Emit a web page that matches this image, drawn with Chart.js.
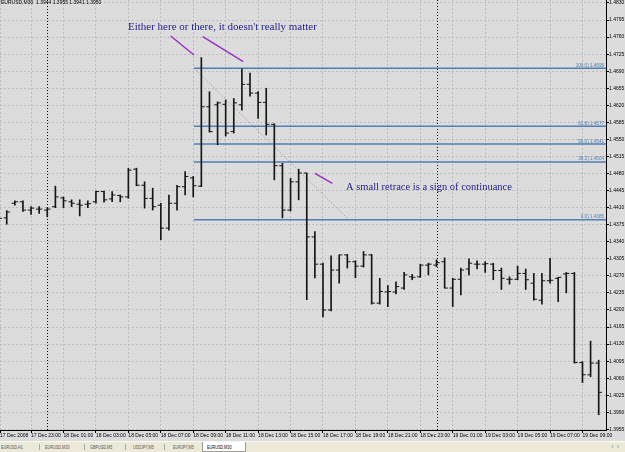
<!DOCTYPE html>
<html>
<head>
	<meta charset="utf-8">
	<title>EURUSD,M30</title>
	<style>
		body { margin: 0; background: #dcdcdc; overflow: hidden; }
		#chartBox { position: relative; width: 625px; height: 441px; }
		#tabs { position: relative; width: 625px; height: 11px; background: #ece9d8; border-top: 1px solid #f8f8f4; box-sizing: border-box; font-family: "Liberation Sans", Arial, sans-serif; font-size: 5.6px; }
		#tabs .tab { position: absolute; top: 1.5px; color: #555; white-space: nowrap; transform: scaleX(0.68); transform-origin: left top; }
		#tabs .sep { position: absolute; top: 2px; width: 1px; height: 6px; background: #a8a8a0; }
		#tabs .active { position: absolute; top: 0; left: 202px; width: 44px; height: 10px; background: #fff; border: 1px solid #9c9c94; border-top: none; box-sizing: border-box; }
		#tabs .active .tab { left: 4px; top: 1.5px; color: #000; }
		#tabs .arrows { position: absolute; right: 3px; top: 1px; color: #8a8a8a; font-size: 7px; letter-spacing: 3px; }
	</style>
</head>
<body>
	<div id="chartBox"><canvas id="myChart"></canvas></div>
	<div id="tabs">
		<span class="tab" style="left:1px">EURUSD,H1</span>
		<span class="sep" style="left:39px"></span>
		<span class="tab" style="left:45px">EURUSD,M30</span>
		<span class="sep" style="left:84px"></span>
		<span class="tab" style="left:90px">GBPUSD,M5</span>
		<span class="sep" style="left:125px"></span>
		<span class="tab" style="left:133px">USDJPY,M5</span>
		<span class="sep" style="left:164px"></span>
		<span class="tab" style="left:173px">EURJPY,M5</span>
		<div class="active"><span class="tab">EURUSD,M30</span></div>
		<span class="arrows">‹›</span>
	</div>

	<script src="https://cdn.jsdelivr.net/npm/chart.js"></script>
	<script>
		// EURUSD M30 bars, 17 Dec 21:00 .. 19 Dec 10:00 (one value per bar)
		const opens = [1.4392, 1.4389, 1.4419, 1.4422, 1.4405, 1.4407, 1.4405, 1.4412, 1.4430, 1.4422,
			1.4417, 1.4417, 1.4422, 1.4443, 1.4428, 1.4435, 1.4432, 1.4489, 1.4456, 1.4429,
			1.4415, 1.4368, 1.4419, 1.4453, 1.4471, 1.4454, 1.4617, 1.4621, 1.4622, 1.4566,
			1.4621, 1.4663, 1.4645, 1.4626, 1.4581, 1.4496, 1.4405, 1.4463, 1.4481, 1.4350,
			1.4294, 1.4200, 1.4282, 1.4313, 1.4299, 1.4290, 1.4313, 1.4214, 1.4237, 1.4237,
			1.4245, 1.4268, 1.4268, 1.4292, 1.4292, 1.4299, 1.4245, 1.4263, 1.4284, 1.4294,
			1.4294, 1.4294, 1.4281, 1.4263, 1.4263, 1.4275, 1.4255, 1.4220, 1.4260, 1.4265,
			1.4274, 1.4275, 1.4092, 1.4067, 1.4091];
		const highs = [1.4398, 1.4404, 1.4424, 1.4424, 1.4412, 1.4412, 1.4410, 1.4454, 1.4432, 1.4426,
			1.4426, 1.4424, 1.4444, 1.4444, 1.4443, 1.4436, 1.4491, 1.4491, 1.4463, 1.4450,
			1.4419, 1.4436, 1.4456, 1.4484, 1.4474, 1.4718, 1.4648, 1.4627, 1.4631, 1.4634,
			1.4695, 1.4686, 1.4648, 1.4655, 1.4582, 1.4501, 1.4470, 1.4489, 1.4481, 1.4361,
			1.4296, 1.4311, 1.4313, 1.4314, 1.4301, 1.4320, 1.4314, 1.4265, 1.4250, 1.4258,
			1.4277, 1.4273, 1.4294, 1.4296, 1.4303, 1.4307, 1.4265, 1.4286, 1.4305, 1.4301,
			1.4299, 1.4296, 1.4286, 1.4268, 1.4290, 1.4284, 1.4275, 1.4275, 1.4306, 1.4267,
			1.4277, 1.4277, 1.4094, 1.4136, 1.4097];
		const lows = [1.4384, 1.4376, 1.4415, 1.4402, 1.4396, 1.4398, 1.4391, 1.4410, 1.4410, 1.4412,
			1.4393, 1.4410, 1.4419, 1.4421, 1.4422, 1.4422, 1.4429, 1.4455, 1.4409, 1.4405,
			1.4344, 1.4364, 1.4405, 1.4436, 1.4432, 1.4453, 1.4565, 1.4539, 1.4557, 1.4563,
			1.4610, 1.4639, 1.4593, 1.4559, 1.4467, 1.4389, 1.4403, 1.4426, 1.4221, 1.4266,
			1.4186, 1.4198, 1.4255, 1.4286, 1.4266, 1.4288, 1.4212, 1.4212, 1.4207, 1.4233,
			1.4242, 1.4262, 1.4267, 1.4272, 1.4289, 1.4245, 1.4207, 1.4231, 1.4272, 1.4284,
			1.4277, 1.4262, 1.4242, 1.4253, 1.4262, 1.4242, 1.4220, 1.4212, 1.4255, 1.4217,
			1.4235, 1.4091, 1.4051, 1.4063, 1.3985];
		const closes = [1.4388, 1.4401, 1.4422, 1.4405, 1.4409, 1.4407, 1.4407, 1.4432, 1.4424, 1.4419,
			1.4415, 1.4418, 1.4443, 1.4426, 1.4436, 1.4432, 1.4487, 1.4456, 1.4429, 1.4412,
			1.4368, 1.4419, 1.4453, 1.4474, 1.4455, 1.4617, 1.4566, 1.4625, 1.4563, 1.4625,
			1.4663, 1.4645, 1.4626, 1.4581, 1.4496, 1.4405, 1.4463, 1.4481, 1.4350, 1.4294,
			1.4200, 1.4282, 1.4313, 1.4299, 1.4290, 1.4313, 1.4214, 1.4238, 1.4238, 1.4248,
			1.4272, 1.4267, 1.4292, 1.4294, 1.4297, 1.4245, 1.4263, 1.4282, 1.4296, 1.4294,
			1.4295, 1.4281, 1.4265, 1.4263, 1.4275, 1.4262, 1.4222, 1.4260, 1.4261, 1.4267,
			1.4275, 1.4092, 1.4067, 1.4091, 1.4031];

		// axis labels: one time label every 4 bars (2 hours), prices every 35 points
		const timeLabels = ['17 Dec 2008', '17 Dec 23:00', '18 Dec 01:00', '18 Dec 03:00', '18 Dec 05:00',
			'18 Dec 07:00', '18 Dec 09:00', '18 Dec 11:00', '18 Dec 13:00', '18 Dec 15:00',
			'18 Dec 17:00', '18 Dec 19:00', '18 Dec 21:00', '18 Dec 23:00', '19 Dec 01:00',
			'19 Dec 03:00', '19 Dec 05:00', '19 Dec 07:00', '19 Dec 09:00'];
		const priceTicks = [1.3955, 1.3990, 1.4025, 1.4060, 1.4095, 1.4130, 1.4165, 1.4200, 1.4235, 1.4270,
			1.4305, 1.4340, 1.4375, 1.4410, 1.4445, 1.4480, 1.4515, 1.4550, 1.4585, 1.4620,
			1.4655, 1.4690, 1.4725, 1.4760, 1.4795, 1.4830];

		// fibo retracement drawn from the 18 Dec high to the 18 Dec 15:00 low
		const fibHigh = 1.4696;
		const fibLow = 1.4385;
		const fibLevels = [100, 61.8, 50, 38.2, 0];
		const headerText = 'EURUSD,M30  1.3944 1.3955 1.3941 1.3950';
		const daySeparators = [6, 54]; // bar index of 18 Dec 00:00 and 19 Dec 00:00

		const fibStart = 24.1, fibEnd = 43.2; // bar positions of the fibo anchors
		const purple = '#9b30c8';
		const notes = [
			{ text: 'Either here or there, it doesn\'t really matter', x: 15.95, y: 1.4781, size: 11 },
			{ text: 'A small retrace is a sign of continuance', x: 42.84, y: 1.4452, size: 10.5 }
		];
		const pointers = [
			[{ x: 21.22, y: 1.47622 }, { x: 24.09, y: 1.47232 }],
			[{ x: 25.17, y: 1.47608 }, { x: 30.17, y: 1.47095 }],
			[{ x: 39.01, y: 1.44805 }, { x: 41.15, y: 1.44600 }]
		];

		const fibPrice = lvl => fibLow + (fibHigh - fibLow) * lvl / 100;

		// extras MT4 draws on the chart: separators, header, fibo captions, notes
		const mt4Extras = {
			id: 'mt4Extras',
			beforeDatasetsDraw(chart) {
				const { ctx, chartArea, scales } = chart;
				ctx.save();
				ctx.strokeStyle = '#000';
				ctx.lineWidth = 1;
				ctx.setLineDash([1, 2]);
				daySeparators.forEach(i => {
					const x = Math.round(scales.x.getPixelForValue(i)) + 0.5;
					ctx.beginPath();
					ctx.moveTo(x, chartArea.top);
					ctx.lineTo(x, chartArea.bottom);
					ctx.stroke();
				});
				ctx.restore();
			},
			afterDatasetsDraw(chart) {
				const { ctx, chartArea, scales } = chart;
				ctx.save();
				ctx.fillStyle = '#000';
				ctx.font = '5px "Liberation Sans", Arial, sans-serif';
				ctx.textBaseline = 'middle';
				ctx.fillText(headerText, chartArea.left + 1, chartArea.top + 3);

				ctx.fillStyle = '#4f7fb0';
				ctx.font = '4.6px "Liberation Sans", Arial, sans-serif';
				ctx.textAlign = 'right';
				ctx.textBaseline = 'bottom';
				fibLevels.forEach(lvl => {
					const p = fibPrice(lvl);
					ctx.fillText(lvl.toFixed(1) + ') ' + p.toFixed(4), chartArea.right - 2, scales.y.getPixelForValue(p) - 0.5);
				});

				ctx.fillStyle = '#23238a';
				ctx.textAlign = 'left';
				ctx.textBaseline = 'middle';
				notes.forEach(n => {
					ctx.font = n.size + 'px "Liberation Serif", "Times New Roman", serif';
					ctx.fillText(n.text, scales.x.getPixelForValue(n.x), scales.y.getPixelForValue(n.y));
				});
				ctx.restore();
			}
		};

		const idx = opens.map((o, i) => i);

		const datasets = [
			{
				type: 'bar',
				data: idx.map(i => ({ x: i, y: [lows[i], highs[i]] })),
				backgroundColor: '#161616',
				borderWidth: 0,
				barThickness: 1,
				grouped: false,
				order: 0
			},
			{
				type: 'line',
				data: idx.map(i => ({ x: i - 0.2, y: opens[i] })),
				showLine: false,
				pointStyle: 'line',
				pointRadius: 1.6,
				pointBorderWidth: 1,
				pointBorderColor: '#161616',
				order: 0
			},
			{
				type: 'line',
				data: idx.map(i => ({ x: i + 0.2, y: closes[i] })),
				showLine: false,
				pointStyle: 'line',
				pointRadius: 1.6,
				pointBorderWidth: 1,
				pointBorderColor: '#161616',
				order: 0
			}
		];

		fibLevels.forEach(lvl => {
			datasets.push({
				type: 'line',
				data: [{ x: fibStart, y: fibPrice(lvl) }, { x: 90, y: fibPrice(lvl) }],
				borderColor: '#4f7fb0',
				borderWidth: 1.5,
				pointRadius: 0,
				order: 2
			});
		});

		datasets.push({
			type: 'line',
			data: [{ x: fibStart, y: fibHigh }, { x: fibEnd, y: fibLow }],
			borderColor: '#8e8e8e',
			borderWidth: 1,
			borderDash: [1, 2],
			pointRadius: 0,
			order: 2
		});

		pointers.forEach(seg => {
			datasets.push({
				type: 'line',
				data: seg,
				borderColor: purple,
				borderWidth: 1.5,
				pointRadius: 0,
				order: 1
			});
		});

		Chart.defaults.font.family = '"Liberation Sans", Arial, sans-serif';
		Chart.defaults.font.size = 5;
		Chart.defaults.color = '#000';

		new Chart(document.getElementById('myChart'), {
			data: { datasets: datasets },
			options: {
				responsive: true,
				maintainAspectRatio: false,
				animation: false,
				layout: { padding: 0, autoPadding: false },
				plugins: { legend: { display: false }, tooltip: { enabled: false } },
				scales: {
					x: {
						type: 'linear',
						min: 0.17,
						max: 74.9,
						offset: false,
						grid: { offset: false, color: '#bcbcbc', tickColor: '#000', tickLength: 3, tickBorderDash: [] },
						border: { color: '#000', dash: [2, 2] },
						ticks: {
							autoSkip: false,
							maxRotation: 0,
							align: 'start',
							padding: 0,
							callback: (v, i) => timeLabels[i]
						},
						afterBuildTicks: s => {
							s.ticks = timeLabels.map((t, k) => ({ value: k === 0 ? s.min : k * 4 }));
						},
						afterFit: s => { s.height = 11; s.paddingLeft = 0; s.paddingRight = 0; }
					},
					y: {
						type: 'linear',
						position: 'right',
						min: 1.39537,
						max: 1.48361,
						grid: { color: '#bcbcbc', tickColor: '#000', tickLength: 3, tickBorderDash: [] },
						border: { color: '#000', dash: [2, 2] },
						ticks: {
							autoSkip: false,
							padding: 0,
							callback: v => v.toFixed(4)
						},
						afterBuildTicks: s => {
							s.ticks = priceTicks.map(v => ({ value: v }));
						},
						afterFit: s => { s.width = 19; s.paddingTop = 0; s.paddingBottom = 0; }
					}
				}
			},
			plugins: [mt4Extras]
		});
	</script>
</body>
</html>
